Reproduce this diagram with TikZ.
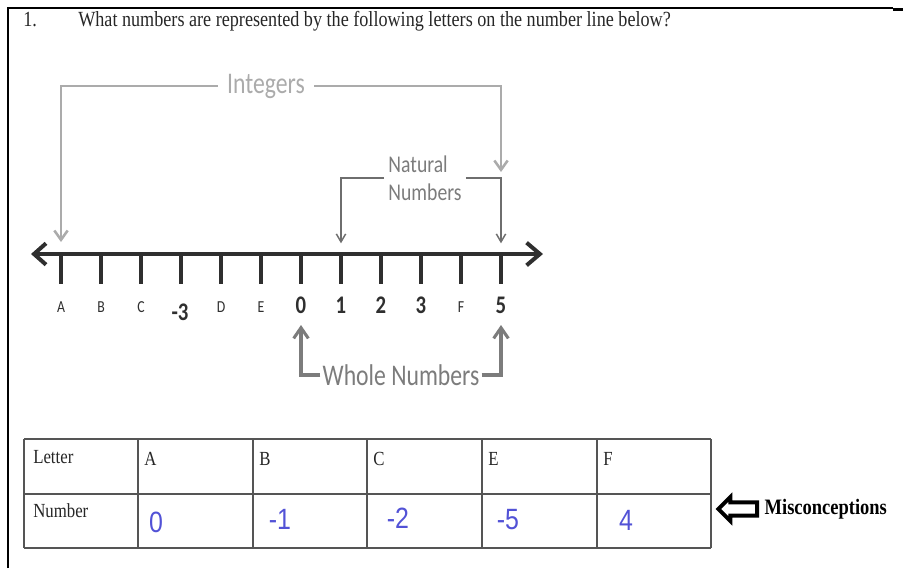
\documentclass[tikz,border=0pt]{standalone}
\usepackage{fontspec}
\setmainfont{Liberation Serif}[FakeStretch=0.84]
\newfontfamily\calfont{Carlito}[FakeStretch=0.82]
\newfontfamily\callabel{Carlito}[FakeStretch=0.79]
\newfontfamily\handfont{Liberation Sans}[FakeStretch=0.85]
\usetikzlibrary{arrows.meta, positioning, shapes.arrows}
\definecolor{intgray}{HTML}{ABABAB}
\definecolor{natgray}{HTML}{6E6E6E}
\definecolor{wholegray}{HTML}{7C7C7C}
\definecolor{axisdark}{HTML}{2F2F2F}
\definecolor{inkblue}{HTML}{5252D6}
\definecolor{gridgray}{HTML}{555555}

\begin{document}
\begin{tikzpicture}[x=0.75pt, y=-0.75pt,
    frame/.style={line width=2pt, black},
    axis/.style={{Straight Barb[length=9pt,width=16pt]}-{Straight Barb[length=10pt,width=17pt]},
                 line width=3pt, axisdark},
    tickmark/.style={line width=2.4pt, axisdark},
    letterlab/.style={font=\calfont\fontsize{12.6}{14}\selectfont, text=axisdark, inner sep=0pt},
    numlab/.style={font=\calfont\bfseries\fontsize{19}{21}\selectfont, text=axisdark, inner sep=0pt},
    intlab/.style={font=\callabel\fontsize{22.5}{24}\selectfont, text=intgray, inner xsep=7pt, inner ysep=0pt},
    natlab/.style={font=\calfont\fontsize{18}{21}\selectfont, text=natgray!90, align=left,
                   inner xsep=3pt, inner ysep=0pt},
    wholelab/.style={font=\callabel\fontsize{22.5}{24}\selectfont, text=wholegray, inner xsep=1.5pt, inner ysep=0pt},
    intarr/.style={-{Straight Barb[length=7pt,width=10pt]}, line width=1.9pt, intgray},
    natarr/.style={-{Straight Barb[length=6pt,width=7pt]}, line width=1.1pt, natgray},
    wholearr/.style={-{Straight Barb[length=8pt,width=11pt]}, line width=2.3pt, wholegray},
    head/.style={font=\fontsize{16.2}{18}\selectfont, text=black!85, anchor=base west, inner sep=0pt},
    cell/.style={font=\fontsize{15}{17}\selectfont, text=black!85, anchor=base west, inner sep=0pt},
    grid/.style={line width=1pt, gridgray},
    hand/.style={font=\handfont\fontsize{22}{24}\selectfont, text=inkblue, inner sep=0pt},
    misarrow/.style={single arrow, shape border rotate=180, draw=black, fill=white, line width=3pt,
                     minimum height=29pt, inner xsep=0pt, inner ysep=3.4pt,
                     single arrow head extend=4pt, single arrow tip angle=90},
    misclab/.style={font=\bfseries\fontsize{16.5}{18}\selectfont, text=black, inner sep=1pt}
  ]
  \useasboundingbox (0,0) rectangle (903,568);
  \draw[frame] (8,568) -- (8,8) -- (893,8);
  \draw[line width=2.6pt] (893,9.5) -- (903,9.5);

  \node[head] (qnum) at (23,26) {1.};
  \node[head] (qtext) at (78,26) {What numbers are represented by the following letters on the number line below?};

  \coordinate (lend) at (31,254);
  \coordinate (rend) at (543,254);
  \draw[axis] (lend) -- (rend);
  \foreach \i in {0,...,11} {
    \coordinate (tk\i) at (61+40*\i,254);
    \draw[tickmark] (tk\i) -- ++(0,30);
  }
  \foreach \i/\t in {0/A,1/B,2/C,4/D,5/E,10/F}
    \node[letterlab] (lb\i) at (61+40*\i,307) {\t};
  \foreach \i/\t in {6/0,7/1,8/2,9/3,11/5}
    \node[numlab] (lb\i) at (61+40*\i,305) {\t};
  \node[numlab] (lb3) at (180,312) {-3};

  \node[intlab] (ints) at (266,86) {Integers};
  \coordinate (intend) at (501,172);
  \draw[intarr, shorten >=9pt] (ints.west) -| (tk0);
  \draw[intarr] (ints.east) -| (intend);

  \node[natlab] (nat) at (425,178) {Natural\\Numbers};
  \draw[natarr, shorten >=8pt] (nat.west) -| (tk7);
  \draw[natarr, shorten >=8pt] (nat.east) -| (tk11);

  \node[wholelab] (whole) at (401,375) {Whole Numbers};
  \coordinate (w0) at (301,325);
  \coordinate (w5) at (501,325);
  \draw[wholearr] (whole.west) -| (w0);
  \draw[wholearr] (whole.east) -| (w5);

  \foreach \cx in {24,138,253,367,482,597,711}
    \draw[grid] (\cx,439) -- (\cx,548);
  \foreach \ry in {439,494,548}
    \draw[grid] (24,\ry) -- (711,\ry);
  \node[cell] (letter) at (33,463) {Letter};
  \node[cell] (number) at (33,517) {Number};
  \foreach \cx/\t [count=\k] in {138/A,253/B,367/C,482/E,597/F}
    \node[cell] (let\k) at (\cx+6,465) {\t};
  \foreach \hx/\hy/\v [count=\k] in {156/522/0,280/519/-1,398/518/-2,508/520/-5,626/520/4}
    \node[hand] (val\k) at (\hx,\hy) {\v};

  \node[misarrow] (misarr) at (741,509) {};
  \node[misclab, right=3pt of misarr] (misc) {Misconceptions};
\end{tikzpicture}
\end{document}
